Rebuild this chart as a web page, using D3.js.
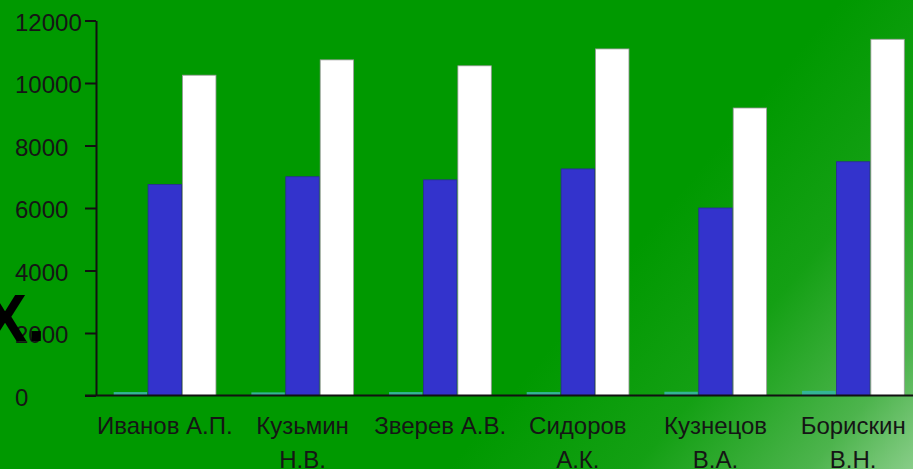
<!DOCTYPE html>
<html>
<head>
<meta charset="utf-8">
<script src="https://cdn.jsdelivr.net/npm/d3@7"></script>
<style>
  html, body { margin: 0; padding: 0; background: #009900; overflow: hidden; }
  svg { display: block; }
  text { font-family: "Liberation Sans", "DejaVu Sans", sans-serif; }
</style>
</head>
<body>
<svg id="chart" width="913" height="469"></svg>
<script>
// Categories (employees) and the three series per employee
const categories = ["Иванов А.П.", "Кузьмин Н.В.", "Зверев А.В.", "Сидоров А.К.", "Кузнецов В.А.", "Борискин В.Н."];
const seriesA = [110, 100, 110, 110, 120, 150];        // small teal bars
const seriesB = [6750, 7000, 6900, 7250, 6000, 7480]; // blue bars
const seriesC = [10250, 10740, 10550, 11090, 9200, 11400]; // white bars
const yTicks = [0, 2000, 4000, 6000, 8000, 10000, 12000];

const seriesKeys = ["a", "b", "c"];
const seriesColors = { a: "#33b596", b: "#3333cc", c: "#ffffff" };
const seriesStroke = { a: "none", b: "#2a2a99", c: "#9a9a9a" };

const rows = categories.map((name, i) => ({ name, a: seriesA[i], b: seriesB[i], c: seriesC[i] }));

const W = 913, H = 469;
const svg = d3.select("#chart");

// Background with a soft light patch toward the lower-right corner
const defs = svg.append("defs");
const grad = defs.append("linearGradient")
  .attr("id", "bg").attr("gradientUnits", "userSpaceOnUse")
  .attr("x1", 640).attr("y1", 240).attr("x2", 913).attr("y2", 469);
grad.append("stop").attr("offset", "0").attr("stop-color", "#009900");
grad.append("stop").attr("offset", "0.4").attr("stop-color", "#14a014");
grad.append("stop").attr("offset", "0.78").attr("stop-color", "#4db44d");
grad.append("stop").attr("offset", "1").attr("stop-color", "#88cd88");
svg.append("rect").attr("width", W).attr("height", H).attr("fill", "url(#bg)");

const x0 = 96, yBase = 395.5, yTop = 20.5;

const x = d3.scaleBand().domain(categories).range([x0, 922]).paddingInner(0.25).paddingOuter(0.125);
const xs = d3.scaleBand().domain(seriesKeys).range([0, x.bandwidth()]).padding(0);
const y = d3.scaleLinear().domain([0, 12000]).range([yBase, yTop]);

// Bars
const groups = svg.append("g").selectAll("g").data(rows).join("g")
  .attr("transform", d => `translate(${x(d.name)},0)`);
groups.selectAll("rect").data(d => seriesKeys.map(k => ({ k, v: d[k] }))).join("rect")
  .attr("x", d => xs(d.k) + 0.5)
  .attr("width", xs.bandwidth() - 1)
  .attr("y", d => y(d.v))
  .attr("height", d => yBase - y(d.v))
  .attr("fill", d => seriesColors[d.k])
  .attr("stroke", d => seriesStroke[d.k])
  .attr("stroke-width", 0.8);

// Y axis
const yAxis = d3.axisLeft(y).tickValues(yTicks).tickSize(11).tickSizeOuter(0).tickFormat(d3.format("d"));
const gy = svg.append("g").attr("transform", `translate(${x0},0)`).call(yAxis);
gy.select(".domain").attr("stroke", "#111").attr("stroke-width", 2);
gy.selectAll(".tick line").attr("stroke", "#111").attr("stroke-width", 2);
gy.selectAll(".tick text")
  .attr("x", 15 - x0).attr("dy", "0.4em")
  .attr("text-anchor", "start")
  .attr("fill", "#151515")
  .style("font-size", "24px");

// Category axis baseline
svg.append("line").attr("x1", 85).attr("x2", W).attr("y1", yBase).attr("y2", yBase)
  .attr("stroke", "#111").attr("stroke-width", 2);

// Category labels, wrapped onto two lines for the longer names
const labels = svg.append("g").selectAll("text").data(categories).join("text")
  .attr("x", d => x(d) + x.bandwidth() / 2)
  .attr("y", 434)
  .attr("text-anchor", "middle")
  .attr("fill", "#151515")
  .style("font-size", "24px");
labels.each(function (d) {
  const t = d3.select(this);
  const cx = x(d) + x.bandwidth() / 2;
  if (d.length > 11) {
    const i = d.lastIndexOf(" ");
    t.append("tspan").attr("x", cx).text(d.slice(0, i));
    t.append("tspan").attr("x", cx).attr("dy", 34).text(d.slice(i + 1));
  } else {
    t.text(d);
  }
});

// Large letter at the left edge
svg.append("text").attr("x", -17).attr("y", 341)
  .attr("fill", "#000")
  .style("font-size", "66px")
  .style("font-weight", "bold")
  .text("Х.");
</script>
</body>
</html>
